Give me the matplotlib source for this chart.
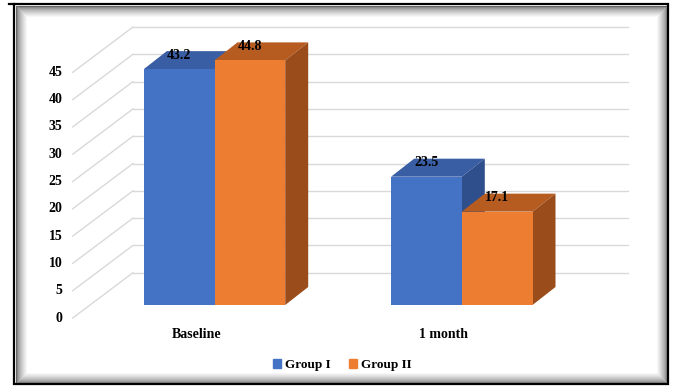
import matplotlib
matplotlib.use("Agg")
import matplotlib.pyplot as plt
from matplotlib.patches import Polygon, Rectangle, Patch

# data
categories = ["Baseline", "1 month"]
series_names = ["Group I", "Group II"]
group_1 = [43.2, 23.5]
group_2 = [44.8, 17.1]
y_ticks = [0, 5, 10, 15, 20, 25, 30, 35, 40, 45]

front_colors = ["#4472C4", "#ED7D31"]
top_colors = ["#3A5EA4", "#B65C21"]
side_colors = ["#2E4F8B", "#9A4D1B"]

W, H = 676, 387
fig = plt.figure(figsize=(W / 100, H / 100), dpi=100)

# --- frame with inner shadow (pixel coords) ---
bg = fig.add_axes([0, 0, 1, 1])
bg.set_xlim(0, W)
bg.set_ylim(H, 0)
bg.axis("off")
n_shade = 12
for i in range(n_shade):
    g = 0.40 + 0.60 * (i / (n_shade - 1)) ** 0.6
    bg.add_patch(Rectangle((15.5 + i, 5.5 + i), 651 - 2 * i, 377 - 2 * i,
                           fill=False, edgecolor=(g, g, g), lw=0.75))
bg.add_patch(Rectangle((14, 4), 654, 380, fill=False, edgecolor="black", lw=1.6))
bg.plot([9, 14], [4, 4], color="black", lw=1.6)

# --- main axes: x = category index, y = value ---
px0, ppx = 214.5, 247.3      # pixel x of category 0, pixels per category
py0, ppy = 305.0, 5.46       # pixel y of value 0 (from top), pixels per unit
ax = fig.add_axes([0, 0, 1, 1], zorder=2)
ax.set_facecolor("none")
ax.set_xlim(-px0 / ppx, (W - px0) / ppx)
ax.set_ylim(-(H - py0) / ppy, py0 / ppy)
ax.axis("off")

font = dict(family="Liberation Serif", weight="bold", size=10)

# walls / gridlines (back wall sits higher, side wall runs to the front)
back_dy = 32.3 / ppy
front_dy = -13 / ppy
wall_back_x = (133 - px0) / ppx
wall_right_x = (628 - px0) / ppx
wall_front_x = (72.7 - px0) / ppx
grid_col = "#D9D9D9"
for v in y_ticks:
    ax.plot([wall_back_x, wall_right_x], [v + back_dy, v + back_dy], color=grid_col, lw=1.0, zorder=1)
    ax.plot([wall_front_x, wall_back_x], [v + front_dy, v + back_dy], color=grid_col, lw=1.0, zorder=1)
    ax.text(wall_front_x - 10 / ppx, v + front_dy, str(v), ha="right", va="center", **font)

# bars
w = 70.7 / ppx
bdx, bdy = 23 / ppx, 18 / ppy
values = [group_1, group_2]
for s, vals in enumerate(values):
    xs = [i - w + s * w for i in range(len(categories))]
    bars = ax.bar(xs, vals, width=w, align="edge", color=front_colors[s], linewidth=0)
    for i, (x0, v) in enumerate(zip(xs, vals)):
        z = 3 + i * 10 + s * 3
        x1 = x0 + w
        top = Polygon([(x0, v), (x1, v), (x1 + bdx, v + bdy), (x0 + bdx, v + bdy)],
                      closed=True, facecolor=top_colors[s], edgecolor="none", zorder=z)
        side = Polygon([(x1, 0), (x1, v), (x1 + bdx, v + bdy), (x1 + bdx, bdy)],
                       closed=True, facecolor=side_colors[s], edgecolor="none", zorder=z + 1)
        ax.add_patch(top)
        ax.add_patch(side)
        bars[i].set_zorder(z + 2)
        ax.text(x0 + w / 2, v + 14 / ppy, f"{v}", ha="center", va="center", zorder=50, **font)

# category labels
for i, cat in enumerate(categories):
    ax.text(i - 18 / ppx, -30 / ppy, cat, ha="center", va="center", **font)

# legend
handles = [Patch(color=c) for c in front_colors]
fig.legend(handles, series_names, loc="center", bbox_to_anchor=(342.5 / W, 1 - 365 / H),
           ncol=2, frameon=False, prop=dict(family="Liberation Serif", weight="bold", size=9.5),
           handlelength=0.6, handleheight=0.6, handletextpad=0.3, columnspacing=1.4)

fig.savefig("out.png", dpi=100)
